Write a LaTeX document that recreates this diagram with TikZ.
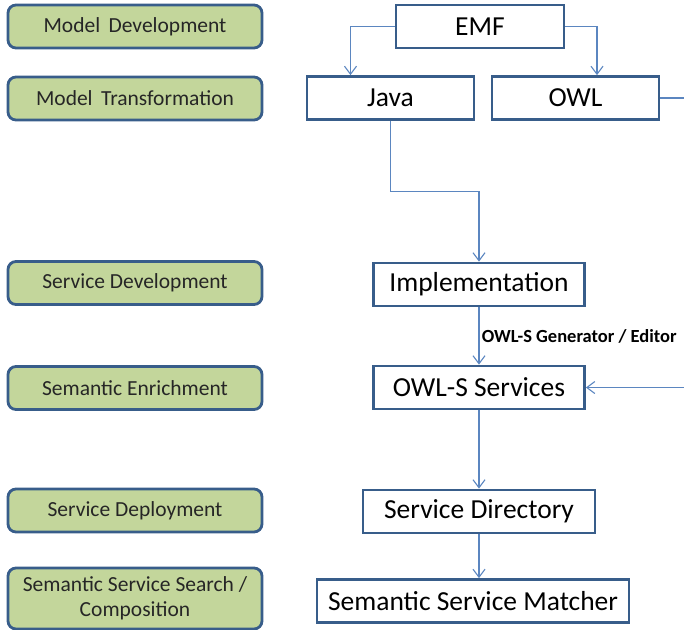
\documentclass[tikz,border=0pt]{standalone}
\usepackage{fontspec}
\setmainfont{Carlito}
\usepackage{xcolor}
\usepackage{tikz}
\usetikzlibrary{arrows.meta}

\definecolor{stagefill}{HTML}{C3D69B}
\definecolor{boxline}{HTML}{385D8A}
\definecolor{linkblue}{HTML}{5B86C0}

\begin{document}
\begin{tikzpicture}[
        x=1pt, y=-1pt,
        stage/.style={rectangle, draw=boxline, line width=2.8pt, rounded corners=8pt, fill=stagefill,
            minimum width=254pt, minimum height=43pt, align=center, text=black!85,
            font=\fontsize{21.5}{25}\selectfont},
        tool/.style={rectangle, draw=boxline, line width=2.8pt, fill=white,
            minimum height=43pt, align=center, font=\fontsize{27.5}{30}\selectfont},
        arrow/.style={-{Straight Barb[length=8pt, width=12pt]}, draw=linkblue, line width=1.1pt}
    ]
        \useasboundingbox (0,0) rectangle (684,629);
        \clip (0,0) rectangle (684,629);

        % Nodes
        \node[stage] (modeldev) at (135,26.5) {Model\, Development};
        \node[stage] (modeltrans) at (135,98.5) {Model\, Transformation};
        \node[stage] (servicedev) at (135,283) {Service Development};
        \node[stage] (enrich) at (135,388) {Semantic Enrichment};
        \node[stage] (deploy) at (135,510.5) {Service Deployment};
        \node[stage, minimum height=61pt] (search) at (135,598.5) {Semantic Service Search /\\Composition};

        \node[tool, minimum width=168pt] (emf) at (480,26.5) {EMF};
        \node[tool, minimum width=167pt] (java) at (390.5,98) {Java};
        \node[tool, minimum width=167pt] (owl) at (575.5,98) {OWL};
        \node[tool, minimum width=211pt] (impl) at (479,284.5) {Implementation};
        \node[tool, minimum width=211pt] (owls) at (479,387.5) {OWL-S Services};
        \node[tool, minimum width=232pt] (directory) at (479,511.5) {Service Directory};
        \node[tool, minimum width=312pt] (matcher) at (473,601) {Semantic Service Matcher};

        % Arrows
        \draw[arrow] (emf.west) -| ([xshift=-40pt]java.north);
        \draw[arrow] (emf.east) -| ([xshift=21.5pt]owl.north);
        \draw[arrow] (java.south) -- ++(0,71) -| (impl.north);
        \draw[arrow] (impl) -- node[right, xshift=-1pt, font=\bfseries\fontsize{18.5}{21}\selectfont] {OWL-S Generator / Editor} (owls);
        \draw[arrow] (owl.east) -- ++(32,0) |- (owls.east);
        \draw[arrow] (owls) -- (directory);
        \draw[arrow] (directory.south) -- (directory.south |- matcher.north);
    \end{tikzpicture}
\end{document}
